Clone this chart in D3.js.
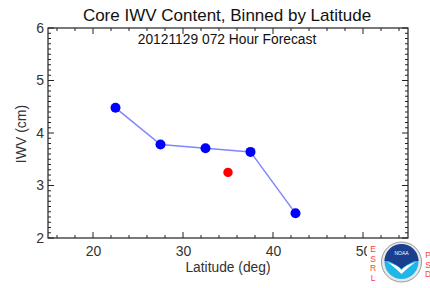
<!DOCTYPE html>
<html><head><meta charset="utf-8">
<script src="https://cdn.jsdelivr.net/npm/d3@7"></script>
<style>body{margin:0;background:#fff}svg{display:block}text{font-family:"Liberation Sans",Arial,sans-serif}</style>
</head><body>
<svg id="c" width="430" height="288"></svg>
<script>
const latitudes = [22.5, 27.5, 32.5, 37.5, 42.5];
const iwvBinned = [4.48, 3.78, 3.71, 3.64, 2.47];
const coreLat = [35.0];
const coreIwv = [3.25];
const xTicks = [20, 30, 40, 50];
const yTicks = [2, 3, 4, 5, 6];
const titleText = "Core IWV Content, Binned by Latitude";
const subtitleText = "20121129 072 Hour Forecast";

const svg = d3.select("#c");
const L = 48, R = 408, T = 28, B = 238;
const x = d3.scaleLinear().domain([15, 55]).range([L, R]);
const y = d3.scaleLinear().domain([2, 6]).range([B, T]);

const axCol = "#222";
svg.append("rect").attr("x", L).attr("y", T).attr("width", R - L).attr("height", B - T)
  .attr("fill", "none").attr("stroke", axCol).attr("stroke-width", 1.2);

const xMinor = d3.range(16, 55, 2);
const yMinor = d3.range(2, 6.001, 0.1);
const g = svg.append("g").attr("stroke", axCol).attr("stroke-width", 1);
xMinor.forEach(v => {
  const maj = xTicks.includes(v);
  const len = maj ? 6 : 3;
  g.append("line").attr("x1", x(v)).attr("x2", x(v)).attr("y1", B).attr("y2", B - len);
  g.append("line").attr("x1", x(v)).attr("x2", x(v)).attr("y1", T).attr("y2", T + len);
});
yMinor.forEach(v => {
  const maj = Math.abs(v - Math.round(v)) < 1e-6;
  const len = maj ? 6 : 3;
  g.append("line").attr("y1", y(v)).attr("y2", y(v)).attr("x1", L).attr("x2", L + len);
  g.append("line").attr("y1", y(v)).attr("y2", y(v)).attr("x1", R).attr("x2", R - len);
});

const font = '"Liberation Sans",Arial,sans-serif';
const xa = svg.append("g").attr("transform", `translate(0,${B})`)
  .call(d3.axisBottom(x).tickValues(xTicks).tickSize(0).tickPadding(8).tickFormat(d3.format("d")));
xa.select(".domain").remove();
xa.selectAll("text").attr("font-size", 14).attr("fill", "#333").style("font-family", font);
const ya = svg.append("g").attr("transform", `translate(${L},0)`)
  .call(d3.axisLeft(y).tickValues(yTicks).tickSize(0).tickPadding(4).tickFormat(d3.format("d")));
ya.select(".domain").remove();
ya.selectAll("text").attr("font-size", 14).attr("fill", "#333").style("font-family", font);

svg.append("text").attr("x", 227).attr("y", 20.5).attr("text-anchor", "middle")
  .attr("font-size", 17).attr("fill", "#111").text(titleText);
svg.append("text").attr("x", 227).attr("y", 44).attr("text-anchor", "middle")
  .attr("font-size", 13.8).attr("fill", "#111").text(subtitleText);
svg.append("text").attr("x", 228).attr("y", 272).attr("text-anchor", "middle")
  .attr("font-size", 13.8).attr("fill", "#333").text("Latitude (deg)");
svg.append("text").attr("transform", "translate(26,134) rotate(-90)").attr("text-anchor", "middle")
  .attr("font-size", 14).attr("fill", "#333").text("IWV (cm)");

const pts = latitudes.map((d, i) => [d, iwvBinned[i]]);
svg.append("path").attr("d", d3.line().x(d => x(d[0])).y(d => y(d[1]))(pts))
  .attr("fill", "none").attr("stroke", "#7f86ff").attr("stroke-width", 1.5);
svg.selectAll(".pt").data(pts).enter().append("circle")
  .attr("cx", d => x(d[0])).attr("cy", d => y(d[1])).attr("r", 5).attr("fill", "#0000ff");
svg.selectAll(".core").data(coreLat.map((d, i) => [d, coreIwv[i]])).enter().append("circle")
  .attr("cx", d => x(d[0])).attr("cy", d => y(d[1])).attr("r", 4.7).attr("fill", "#ff0000");

// logo
const lg = svg.append("g");
lg.append("rect").attr("x", 367).attr("y", 240).attr("width", 63).attr("height", 48).attr("fill", "#fff");
const cx = 401.5, cy = 262, r = 20;
lg.append("circle").attr("cx", cx).attr("cy", cy).attr("r", r).attr("fill", "#e8e8e8").attr("stroke", "#9a9a9a").attr("stroke-width", 1);
lg.append("circle").attr("cx", cx).attr("cy", cy).attr("r", r - 3).attr("fill", "#1fb6e8");
lg.append("path").attr("d", `M${cx - 17},${cy - 1} A17,17 0 0 1 ${cx + 17},${cy - 1} L${cx + 13},${cy - 1} Q${cx + 4},${cy + 3} ${cx},${cy + 7} Q${cx - 4},${cy + 3} ${cx - 13},${cy - 1} Z`).attr("fill", "#1b3f8f");
lg.append("path").attr("d", `M${cx - 14},${cy} Q${cx - 4},${cy + 3} ${cx},${cy + 8} Q${cx + 4},${cy + 3} ${cx + 14},${cy} Q${cx + 5},${cy + 7} ${cx},${cy + 12} Q${cx - 5},${cy + 7} ${cx - 14},${cy} Z`).attr("fill", "#fff");
lg.append("text").attr("x", cx).attr("y", cy - 7).attr("text-anchor", "middle").attr("font-size", 5).attr("fill", "#fff").text("NOAA");
["E", "S", "R", "L"].forEach((c, i) => lg.append("text").attr("x", 373).attr("y", 252 + i * 9.5).attr("text-anchor", "middle")
  .attr("font-size", 8.5).attr("fill", "#ff4040").text(c));
["P", "S", "D"].forEach((c, i) => lg.append("text").attr("x", 428).attr("y", 258 + i * 9.5).attr("text-anchor", "middle")
  .attr("font-size", 8.5).attr("fill", "#ff4040").text(c));
</script>
</body></html>
